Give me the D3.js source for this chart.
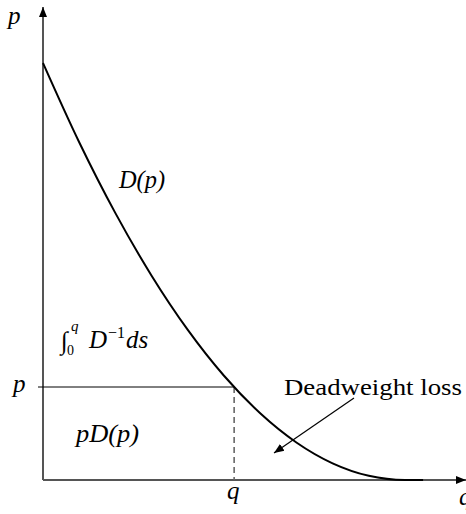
<!DOCTYPE html>
<html><head><meta charset="utf-8">
<script src="https://cdn.jsdelivr.net/npm/d3@7"></script>
<style>body{margin:0;background:#fff}svg{display:block}</style>
</head><body><svg id="c" width="466" height="514"></svg>
<script>
// Demand curve points (q, p in relative units)
const demandQ = [0, 0.1, 0.2, 0.3, 0.4, 0.5, 0.6, 0.7, 0.8, 0.9, 1.0, 1.05];
const demandP = [1, 0.81, 0.64, 0.49, 0.36, 0.25, 0.16, 0.09, 0.04, 0.01, 0, 0];
const priceLevel = 0.223;   // p
const quantityLevel = 0.528; // q = D(p)
const labels = ["p", "q", "D(p)", "pD(p)", "Deadweight loss"];

const FONT = "'Liberation Serif', 'Times New Roman', serif";
const svg = d3.select("#c");
const x = d3.scaleLinear().domain([0, 1]).range([43, 405]);
const y = d3.scaleLinear().domain([0, 1]).range([480, 63]);

const defs = svg.append("defs");
defs.append("marker").attr("id","ah").attr("viewBox","0 0 10 10").attr("refX",10).attr("refY",5)
  .attr("markerWidth",10).attr("markerHeight",10).attr("markerUnits","userSpaceOnUse").attr("orient","auto")
  .append("path").attr("d","M0,1 L10,5 L0,9 Z").attr("fill","#000");

// axes
svg.append("line").attr("x1",x(0)).attr("y1",y(0)).attr("x2",x(0)).attr("y2",7)
  .attr("stroke","#555").attr("stroke-width",2).attr("marker-end","url(#ah)");
svg.append("line").attr("x1",x(0)).attr("y1",y(0)).attr("x2",466).attr("y2",y(0))
  .attr("stroke","#555").attr("stroke-width",2).attr("marker-end","url(#ah)");

// price line and dashed quantity line
svg.append("line").attr("x1",38).attr("x2",x(quantityLevel)).attr("y1",y(priceLevel)).attr("y2",y(priceLevel))
  .attr("stroke","#000").attr("stroke-width",1);
svg.append("line").attr("x1",x(quantityLevel)).attr("x2",x(quantityLevel)).attr("y1",y(priceLevel)).attr("y2",y(0))
  .attr("stroke","#666").attr("stroke-width",1.6).attr("stroke-dasharray","6,4");

// demand curve
const pts = demandQ.map((q,i)=>[q, demandP[i]]);
svg.append("path").datum(pts)
  .attr("d", d3.line().x(d=>x(d[0])).y(d=>y(d[1])).curve(d3.curveMonotoneX))
  .attr("fill","none").attr("stroke","#000").attr("stroke-width",2);

// arrow for deadweight loss
svg.append("line").attr("x1",354).attr("y1",398).attr("x2",274).attr("y2",453)
  .attr("stroke","#000").attr("stroke-width",1.2).attr("marker-end","url(#ah)");

// texts
const txt = (t,xx,yy,size,italic,len)=>{
  const e = svg.append("text").attr("x",xx).attr("y",yy).attr("font-size",size)
    .attr("font-family",FONT).attr("font-style",italic?"italic":"normal").text(t);
  if (len) e.attr("textLength",len).attr("lengthAdjust","spacingAndGlyphs");
  return e;
};
txt(labels[0], 8, 24, 25, true);
txt(labels[0], 13, 392, 25, true);
txt(labels[1], 227, 499, 25, true);
txt(labels[1], 459, 505, 25, true);
txt(labels[2], 119, 188, 25, true, 46);
txt(labels[3], 76, 442, 25, true, 63);

// integral label  ∫_0^q D^{-1} ds
txt("∫", 61, 349, 25, false);
txt("q", 71, 331, 15, true);
txt("0", 67, 355, 14, false);
const dinv = svg.append("text").attr("x",89).attr("y",348).attr("font-size",25)
  .attr("font-family",FONT).attr("font-style","italic");
dinv.append("tspan").text("D");
dinv.append("tspan").attr("font-size",16).attr("font-style","normal").attr("dx",1).attr("dy",-10).text("−1");
dinv.append("tspan").attr("dy",10).attr("dx",1).text("ds");

txt(labels[4], 284, 395, 24, false, 178);
</script></body></html>
